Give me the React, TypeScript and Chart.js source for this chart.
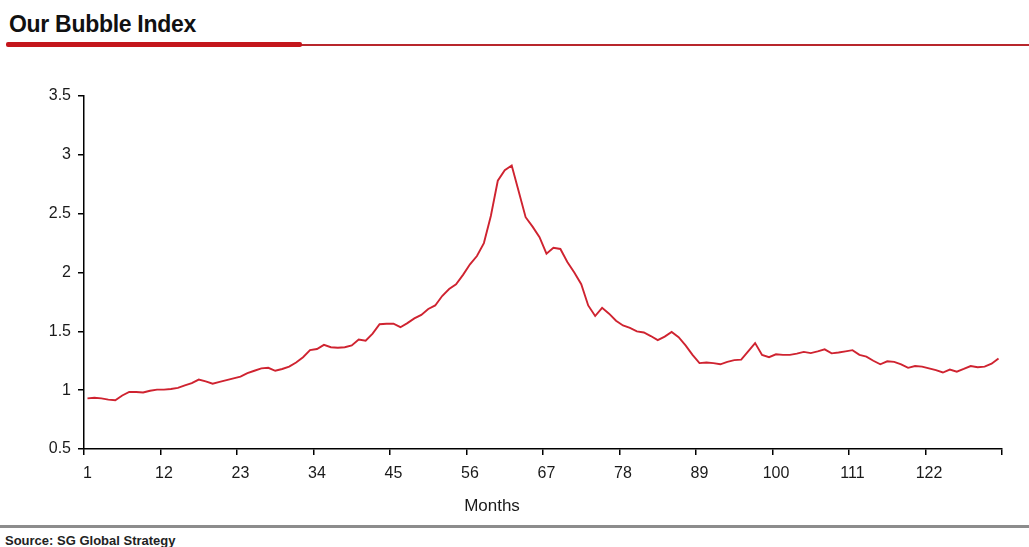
import React, { useEffect, useRef } from "react";
import { Chart, registerables } from "chart.js";

Chart.register(...registerables);

const TITLE = "Our Bubble Index";
const SOURCE = "Source: SG Global Strategy";
const X_TITLE = "Months";

const bubbleIndex: number[] = [
  0.93, 0.935, 0.93, 0.92, 0.915, 0.955, 0.985, 0.985, 0.98, 0.995,
  1.005, 1.005, 1.01, 1.02, 1.04, 1.06, 1.09, 1.075, 1.055, 1.07,
  1.085, 1.1, 1.115, 1.145, 1.165, 1.185, 1.19, 1.165, 1.18, 1.2,
  1.235, 1.28, 1.34, 1.35, 1.385, 1.365, 1.36, 1.365, 1.38, 1.43,
  1.42, 1.48, 1.56, 1.565, 1.565, 1.535, 1.57, 1.61, 1.64, 1.69,
  1.72, 1.8, 1.86, 1.9, 1.98, 2.07, 2.14, 2.25, 2.48, 2.78,
  2.87, 2.91, 2.69, 2.47, 2.39, 2.3, 2.16, 2.21, 2.2, 2.09,
  2.0, 1.9, 1.72, 1.63, 1.7, 1.65, 1.59, 1.55, 1.53, 1.5,
  1.49, 1.46, 1.425, 1.455, 1.495, 1.45, 1.38, 1.3, 1.23, 1.235,
  1.23, 1.22, 1.24, 1.255, 1.26, 1.33, 1.4, 1.3, 1.28, 1.305,
  1.3, 1.3, 1.31, 1.325, 1.315, 1.33, 1.347, 1.313, 1.32, 1.33,
  1.34, 1.3, 1.285, 1.25, 1.22, 1.245, 1.24, 1.22, 1.19, 1.205,
  1.2, 1.185, 1.17, 1.15, 1.175, 1.157, 1.18, 1.205, 1.195, 1.2,
  1.225, 1.27,
];

const months: number[] = bubbleIndex.map((_, i) => i + 1);
const xTickLabels: string[] = ["1", "12", "23", "34", "45", "56", "67", "78", "89", "100", "111", "122"];
const yTicks: number[] = [0.5, 1, 1.5, 2, 2.5, 3, 3.5];

const FONT = "'Liberation Sans', Arial, sans-serif";

export default function App() {
  const ref = useRef<HTMLCanvasElement | null>(null);

  useEffect(() => {
    document.body.style.margin = "0";
    const canvas = ref.current;
    if (!canvas) return;
    const first = months[0] - 0.5;
    const last = months[months.length - 1] + 0.5;
    const step = 11;
    const boundaries: number[] = [];
    for (let v = first; v <= last + 1e-9; v += step) boundaries.push(v);

    const chart = new Chart(canvas, {
      type: "line",
      data: {
        datasets: [
          {
            label: TITLE,
            data: months.map((m, i) => ({ x: m, y: bubbleIndex[i] })),
            borderColor: "#cf2330",
            borderWidth: 1.9,
            pointRadius: 0,
            tension: 0,
            fill: false,
          },
        ],
      },
      options: {
        animation: false,
        responsive: false,
        maintainAspectRatio: false,
        layout: { padding: { top: 36, right: 27, left: 0, bottom: 0 } },
        plugins: { legend: { display: false }, tooltip: { enabled: false }, title: { display: false } },
        scales: {
          x: {
            type: "linear",
            min: first,
            max: last,
            afterBuildTicks: (scale: any) => {
              scale.ticks = boundaries.map((v) => ({ value: v }));
            },
            afterFit: (scale: any) => {
              scale.height = 71;
            },
            ticks: {
              autoSkip: false,
              maxRotation: 0,
              minRotation: 0,
              labelOffset: 3.5,
              padding: 9,
              color: "#1a1a1a",
              font: { family: FONT, size: 16 },
              callback: (_v: any, idx: number) => (idx < xTickLabels.length ? xTickLabels[idx] : ""),
            },
            grid: {
              drawOnChartArea: false,
              drawTicks: true,
              tickLength: 6,
              color: "#000",
              lineWidth: 1.5,
            },
            border: { display: true, color: "#000", width: 1.5 },
          },
          y: {
            min: yTicks[0],
            max: yTicks[yTicks.length - 1],
            afterBuildTicks: (scale: any) => {
              scale.ticks = yTicks.map((v) => ({ value: v }));
            },
            afterFit: (scale: any) => {
              scale.width = 84;
            },
            ticks: {
              padding: 7,
              color: "#1a1a1a",
              font: { family: FONT, size: 16 },
              callback: (v: any) => String(v),
            },
            grid: {
              drawOnChartArea: false,
              drawTicks: true,
              tickLength: 6,
              color: "#000",
              lineWidth: 1.5,
            },
            border: { display: true, color: "#000", width: 1.5 },
          },
        },
      },
    });
    return () => chart.destroy();
  }, []);

  return (
    <div style={{ position: "relative", width: 1029, height: 547, background: "#fff", overflow: "hidden" }}>
      <div
        style={{
          position: "absolute",
          left: 9,
          top: 11,
          fontFamily: FONT,
          fontWeight: 700,
          fontSize: 23,
          letterSpacing: -0.3,
          color: "#111",
          whiteSpace: "nowrap",
        }}
      >
        {TITLE}
      </div>
      <div style={{ position: "absolute", left: 300, top: 44, width: 729, height: 2, background: "#b8262c" }} />
      <div style={{ position: "absolute", left: 6, top: 42, width: 296, height: 5, background: "#c4161c", borderRadius: 2 }} />
      <div style={{ position: "absolute", left: 0, top: 60, width: 1029, height: 460 }}>
        <canvas ref={ref} width={1029} height={460} style={{ display: "block" }} />
      </div>
      <div
        style={{
          position: "absolute",
          left: 492,
          top: 496,
          transform: "translateX(-50%)",
          fontFamily: FONT,
          fontSize: 17,
          color: "#1a1a1a",
          whiteSpace: "nowrap",
        }}
      >
        {X_TITLE}
      </div>
      <div style={{ position: "absolute", left: 0, top: 525, width: 1029, height: 3, background: "#8c8c8c" }} />
      <div
        style={{
          position: "absolute",
          left: 5,
          top: 533,
          fontFamily: FONT,
          fontWeight: 700,
          fontSize: 13,
          color: "#222",
          whiteSpace: "nowrap",
        }}
      >
        {SOURCE}
      </div>
    </div>
  );
}
